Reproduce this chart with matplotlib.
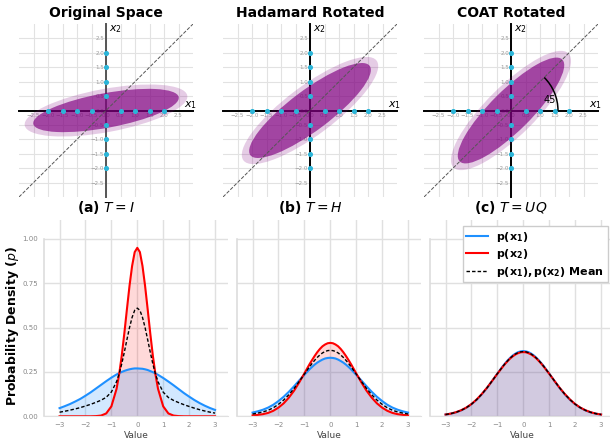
import numpy as np
import matplotlib.pyplot as plt
from matplotlib.patches import Ellipse, Arc

# ---- top row: 2D spaces ----
TITLES = ["Original Space", "Hadamard Rotated", "COAT Rotated"]
CAPTIONS = [r"$\mathbf{(a)}\ T = I$", r"$\mathbf{(b)}\ T = H$", r"$\mathbf{(c)}\ T = UQ$"]
AXIS_TICKS = [-2.5, -2.0, -1.5, -1.0, -0.5, 0.0, 0.5, 1.0, 1.5, 2.0, 2.5]
DOT_POS = [-2.0, -1.5, -1.0, -0.5, 0.5, 1.0, 1.5, 2.0]
DIAG = [-3, 3]

ELL_ANGLE = [10.5, 37.0, 45.0]
ELL_INNER = [(5.1, 1.2), (5.15, 1.4), (5.0, 1.4)]
ELL_OUTER = [(5.7, 1.5), (5.75, 1.7), (5.6, 1.7)]
ARC_DEG = 45

# ---- bottom row: marginal densities ----
x_val = [-3.0, -2.8, -2.6, -2.4, -2.2, -2.0, -1.8, -1.6, -1.4, -1.2, -1.0, -0.8,
         -0.7, -0.6, -0.5, -0.4, -0.3, -0.2, -0.1, 0.0, 0.1, 0.2, 0.3, 0.4, 0.5, 0.6, 0.7,
         0.8, 1.0, 1.2, 1.4, 1.6, 1.8, 2.0, 2.2, 2.4, 2.6, 2.8, 3.0]

p1_orig = [.046, .057, .069, .083, .098, .116, .135, .156, .177, .198, .218, .236,
           .243, .250, .256, .261, .265, .268, .270, .270, .269, .268, .265, .261, .255, .249, .242,
           .234, .216, .196, .175, .153, .131, .111, .092, .075, .060, .047, .036]
p2_orig = [0, 0, 0, 0, 0, 0, 0, .001, .004, .016, .056, .155,
           .237, .342, .468, .604, .736, .848, .926, .950, .926, .848, .736, .604, .468, .342, .237,
           .155, .056, .016, .004, .001, 0, 0, 0, 0, 0, 0, 0]

p1_had = [.021, .028, .037, .049, .065, .086, .110, .138, .169, .202, .234, .265,
          .279, .292, .303, .312, .320, .326, .329, .330, .329, .326, .320, .312, .303, .292, .279,
          .265, .234, .202, .169, .138, .110, .086, .065, .049, .037, .028, .021]
p2_had = [.005, .008, .012, .019, .031, .049, .073, .105, .144, .191, .242, .294,
          .318, .341, .362, .380, .395, .405, .412, .414, .412, .405, .395, .380, .362, .341, .318,
          .294, .242, .191, .144, .105, .073, .049, .031, .019, .012, .008, .005]

p1_coat = [.010, .015, .022, .033, .048, .068, .093, .124, .160, .200, .241, .281,
           .299, .316, .331, .344, .354, .362, .366, .368, .366, .362, .354, .344, .331, .316, .299,
           .281, .241, .200, .160, .124, .093, .068, .048, .033, .022, .015, .010]
p2_coat = [.010, .015, .023, .034, .049, .069, .095, .126, .161, .200, .240, .278,
           .296, .312, .327, .339, .349, .356, .361, .362, .361, .356, .349, .339, .327, .312, .296,
           .278, .240, .200, .161, .126, .095, .069, .049, .034, .023, .015, .010]

X_TICKS = [-3, -2, -1, 0, 1, 2, 3]
Y_TICKS = [0.0, 0.25, 0.5, 0.75, 1.0]

BLUE = "#1e90ff"
RED = "#ff0000"
PURPLE = "#800080"
CYAN = "#2bb5d8"

fig = plt.figure(figsize=(6.1, 4.43), dpi=100)
W, H = 610, 443

top_left = [19, 223, 424]
for i in range(3):
    ax = fig.add_axes([top_left[i] / W, 1 - 197 / H, 174 / W, 173 / H])
    ax.set_xlim(-3, 3)
    ax.set_ylim(-3, 3)
    for s in ["top", "right"]:
        ax.spines[s].set_visible(False)
    for s in ["left", "bottom"]:
        ax.spines[s].set_position(("data", 0))
        ax.spines[s].set_linewidth(1.4)
    ax.spines["left"].set_color("#555555" if i == 0 else "black")
    ax.set_xticks(AXIS_TICKS)
    ax.set_yticks(AXIS_TICKS)
    ax.tick_params(labelsize=4, labelcolor="#9a9a9a", length=0, pad=1.5)
    ax.grid(True, color="#e2e2e2", lw=0.8)
    ax.set_axisbelow(True)

    ax.add_patch(Ellipse((0, 0), *ELL_OUTER[i], angle=ELL_ANGLE[i],
                         color=PURPLE, alpha=0.2, lw=0, zorder=3))
    ax.add_patch(Ellipse((0, 0), *ELL_INNER[i], angle=ELL_ANGLE[i],
                         color=PURPLE, alpha=0.66, lw=0, zorder=3))
    ax.plot(DIAG, DIAG, ls="--", color="#555555", lw=0.7, zorder=4)

    ax.scatter(DOT_POS, np.zeros(len(DOT_POS)), s=7, color=CYAN, zorder=5, clip_on=False)
    ax.scatter(np.zeros(len(DOT_POS)), DOT_POS, s=7, color=CYAN, zorder=5, clip_on=False)

    ax.text(2.92, 0.17, r"$x_1$", fontsize=8, ha="center", va="center", clip_on=False)
    ax.text(0.1, 2.83, r"$x_2$", fontsize=8, ha="left", va="center")

    ax.set_title(TITLES[i], fontsize=10, fontweight="bold", pad=5)
    fig.text((top_left[i] + 87) / W, 1 - 208 / H, CAPTIONS[i], fontsize=10,
             ha="center", va="center")

    if i == 2:
        r = 1.62
        ax.add_patch(Arc((0, 0), 2 * r, 2 * r, theta1=0, theta2=ARC_DEG,
                         color="black", lw=1.1, zorder=6))
        ax.text(1.32, 0.36, f"{ARC_DEG}", fontsize=7, ha="center", va="center", zorder=6)

# ---- density row ----
x = np.array(x_val)
panels = [(p1_orig, p2_orig), (p1_had, p2_had), (p1_coat, p2_coat)]
bot_left = [44, 237, 430]
for i, (p1, p2) in enumerate(panels):
    p1 = np.array(p1)
    p2 = np.array(p2)
    mean = (p1 + p2) / 2
    ax = fig.add_axes([bot_left[i] / W, 1 - 416.3 / H, 184 / W, (416.3 - 220) / H])
    ax.fill_between(x, p2, color=RED, alpha=0.15, lw=0)
    ax.fill_between(x, p1, color=BLUE, alpha=0.2, lw=0)
    ax.plot(x, p1, color=BLUE, lw=1.5, label=r"$\mathbf{p(x_1)}$")
    ax.plot(x, p2, color=RED, lw=1.5, label=r"$\mathbf{p(x_2)}$")
    ax.plot(x, mean, color="black", lw=1.0, ls=(0, (2.5, 1.5)),
            label=r"$\mathbf{p(x_1), p(x_2)}$ Mean")

    ax.set_xlim(-3.6, 3.5)
    ax.set_ylim(0, 1.107)
    ax.set_xticks(X_TICKS)
    ax.set_yticks(Y_TICKS)
    ax.grid(True, color="#e0e0e0", lw=1.0)
    ax.set_axisbelow(True)
    for s in ["top", "right"]:
        ax.spines[s].set_visible(False)
    ax.spines["bottom"].set_color("#e0e0e0")
    ax.spines["left"].set_color("#dddddd")
    ax.spines["left"].set_linewidth(1.2)
    ax.spines["left"].set_bounds(0, 1.0)
    ax.tick_params(labelsize=5, labelcolor="#888888", length=0, pad=4)
    ax.set_xlabel("Value", fontsize=6.5, color="#444444", labelpad=2)
    if i > 0:
        ax.tick_params(labelleft=False)
    else:
        ax.yaxis.set_major_formatter(plt.FormatStrFormatter("%.2f"))
    if i == 2:
        ax.legend(loc="upper right", bbox_to_anchor=(608 / W, 1 - 226 / H),
                  bbox_transform=fig.transFigure, borderaxespad=0,
                  prop={"weight": "bold", "size": 8}, framealpha=1,
                  edgecolor="#cccccc", fancybox=False, handlelength=1.9,
                  labelspacing=0.3, borderpad=0.35, handletextpad=0.8)

fig.text(13 / W, 1 - 326 / H, r"Probability Density ($p$)", rotation=90,
         fontsize=9, fontweight="bold", ha="center", va="center")

fig.savefig("out.png", dpi=100)
